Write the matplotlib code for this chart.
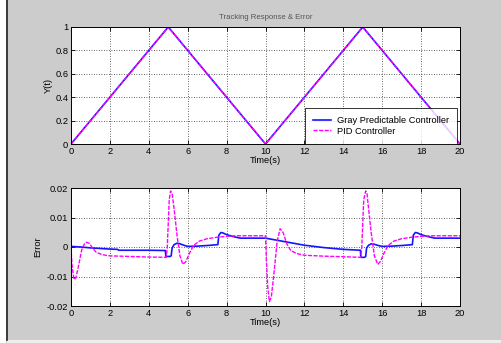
import matplotlib
matplotlib.use("Agg")
import matplotlib.pyplot as plt
from matplotlib.lines import Line2D
from matplotlib.patches import Rectangle

plt.rcParams['font.family'] = ['Liberation Sans', 'DejaVu Sans']

# ---- data ----
t_ref = [0, 5, 10, 15, 20]
y_gray = [0, 1, 0, 1, 0]
y_pid = [0, 1, 0, 1, 0]

t_err_gray = [0, 0.5, 1.0, 1.5, 2.0, 2.4, 2.45, 3.0, 4.0, 4.85, 4.88, 5.1, 5.15, 5.2, 5.3, 5.45,
              5.6, 5.8, 6.0, 6.5, 7.0, 7.55, 7.6, 7.7, 7.8, 8.0, 8.3, 8.7, 9.0, 10.0,
              10.5, 11.0, 11.5, 12.0, 13.0, 14.0, 14.88, 14.9, 15.1, 15.15, 15.2, 15.3, 15.45,
              15.6, 15.8, 16.0, 16.5, 17.0, 17.55, 17.6, 17.7, 17.8, 18.0, 18.3, 18.7, 19.0, 20.0]
e_gray = [0.0002, 0.0, -0.0003, -0.0005, -0.0007, -0.0008, -0.0011, -0.0011, -0.0011, -0.0012, -0.0032, -0.0032, -0.003, -0.0003, 0.0008, 0.0013,
          0.0011, 0.0006, 0.0002, 0.0003, 0.0005, 0.0008, 0.004, 0.0049, 0.0048, 0.0042, 0.0036, 0.003, 0.003, 0.003,
          0.0024, 0.0018, 0.0012, 0.0006, -0.0002, -0.0008, -0.0011, -0.0035, -0.0035, -0.0032, -0.0003, 0.0006, 0.0011,
          0.0009, 0.0005, 0.0002, 0.0003, 0.0005, 0.0008, 0.004, 0.0049, 0.0048, 0.0042, 0.0036, 0.003, 0.003, 0.003]

t_err_pid = [0, 0.05, 0.15, 0.25, 0.4, 0.55, 0.7, 0.8, 0.95, 1.1, 1.3, 1.6, 2.0, 3.0, 4.0, 4.9,
             4.95, 5.0, 5.05, 5.12, 5.2, 5.3, 5.45, 5.6, 5.75, 5.9, 6.1, 6.3, 6.6, 7.0, 7.5, 8.0, 8.5, 9.0, 10.0,
             10.05, 10.12, 10.2, 10.3, 10.45, 10.6, 10.75, 10.9, 11.1, 11.3, 11.6, 12.0, 13.0, 14.0, 14.9,
             14.95, 15.0, 15.05, 15.15, 15.22, 15.3, 15.45, 15.6, 15.77, 15.9, 16.1, 16.3, 16.6, 17.0, 17.5, 18.0, 18.5, 19.0, 20.0]
e_pid = [0, -0.006, -0.011, -0.0105, -0.006, -0.001, 0.0012, 0.0016, 0.0012, -0.0003, -0.0018, -0.0026, -0.003, -0.0032, -0.0034, -0.0035,
         0.0, 0.008, 0.016, 0.019, 0.018, 0.013, 0.004, -0.003, -0.0059, -0.005, -0.002, 0.0005, 0.002, 0.0028, 0.0033, 0.0036, 0.0038, 0.0038, 0.0038,
         -0.005, -0.014, -0.0185, -0.017, -0.008, 0.002, 0.0062, 0.005, 0.001, -0.0012, -0.0022, -0.0028, -0.0031, -0.0033, -0.0035,
         0.0, 0.008, 0.016, 0.019, 0.018, 0.013, 0.004, -0.003, -0.0059, -0.005, -0.002, 0.0005, 0.002, 0.0028, 0.0033, 0.0036, 0.0038, 0.0038, 0.0038]

x_ticks = [0, 2, 4, 6, 8, 10, 12, 14, 16, 18, 20]
y_ticks_top = [0, 0.2, 0.4, 0.6, 0.8, 1]
y_tick_labels_top = ['0', '0.2', '0.4', '0.6', '0.8', '1']
y_ticks_err = [-0.02, -0.01, 0, 0.01, 0.02]
y_tick_labels_err = ['-0.02', '-0.01', '0', '0.01', '0.02']

W, H = 501, 343
fig = plt.figure(figsize=(W / 100, H / 100), dpi=100)
fig.patch.set_facecolor('#cccccc')
# window frame: white strip left, dark line, light bottom
fig.patches.append(Rectangle((0, 0), 6 / W, 1, transform=fig.transFigure, facecolor='white', edgecolor='none', zorder=0))
fig.lines.append(Line2D([6.5 / W, 6.5 / W], [3 / H, 1], transform=fig.transFigure, color='#222222', lw=1.2))
fig.patches.append(Rectangle((7 / W, 0), 1, 3 / H, transform=fig.transFigure, facecolor='#eeeeee', edgecolor='none', zorder=0))


def ax_rect(left, top, right, bottom):
    return [left / W, 1 - bottom / H, (right - left) / W, (bottom - top) / H]


fs = 6.7
ax1 = fig.add_axes(ax_rect(71, 27, 460, 144))
ax2 = fig.add_axes(ax_rect(71, 188, 460, 306))

for ax in (ax1, ax2):
    ax.set_facecolor('white')
    ax.set_xlim(0, 20)
    ax.set_xticks(x_ticks)
    ax.set_xticklabels([str(v) for v in x_ticks])
    ax.grid(True, linestyle=(0, (1, 2)), color='#333333', linewidth=0.6)
    ax.tick_params(direction='in', length=3, width=0.6, top=True, right=True, labelsize=fs, pad=2, colors='black')
    for s in ax.spines.values():
        s.set_linewidth(0.7)
        s.set_color('black')

ax1.plot(t_ref, y_gray, color='#1414ff', lw=1.2, label='Gray Predictable Controller')
ax1.plot(t_ref, y_pid, color='#ff00ff', lw=1.0, ls=(0, (3, 1)), label='PID Controller')
ax1.set_ylim(0, 1)
ax1.set_yticks(y_ticks_top)
ax1.set_yticklabels(y_tick_labels_top)
ax1.set_ylabel('Y(t)', fontsize=fs, labelpad=2)
ax1.set_xlabel('Time(s)', fontsize=fs, labelpad=0)
ax1.set_title('Tracking Response & Error', fontsize=5.6, color='#555555', pad=6)
leg = ax1.legend(loc='lower right', bbox_to_anchor=(0.992, 0.004), borderaxespad=0,
                 fontsize=fs, frameon=True, fancybox=False, handlelength=1.95,
                 borderpad=0.85, labelspacing=0.2, handletextpad=0.65)
leg.get_frame().set_edgecolor('black')
leg.get_frame().set_linewidth(0.7)

ax2.plot(t_err_gray, e_gray, color='#1414ff', lw=1.2)
ax2.plot(t_err_pid, e_pid, color='#ff00ff', lw=1.0, ls=(0, (3, 1)))
ax2.set_ylim(-0.02, 0.02)
ax2.set_yticks(y_ticks_err)
ax2.set_yticklabels(y_tick_labels_err)
ax2.set_ylabel('Error', fontsize=fs, labelpad=3)
ax2.set_xlabel('Time(s)', fontsize=fs, labelpad=0)

fig.savefig('out.png', dpi=100, facecolor=fig.get_facecolor())
